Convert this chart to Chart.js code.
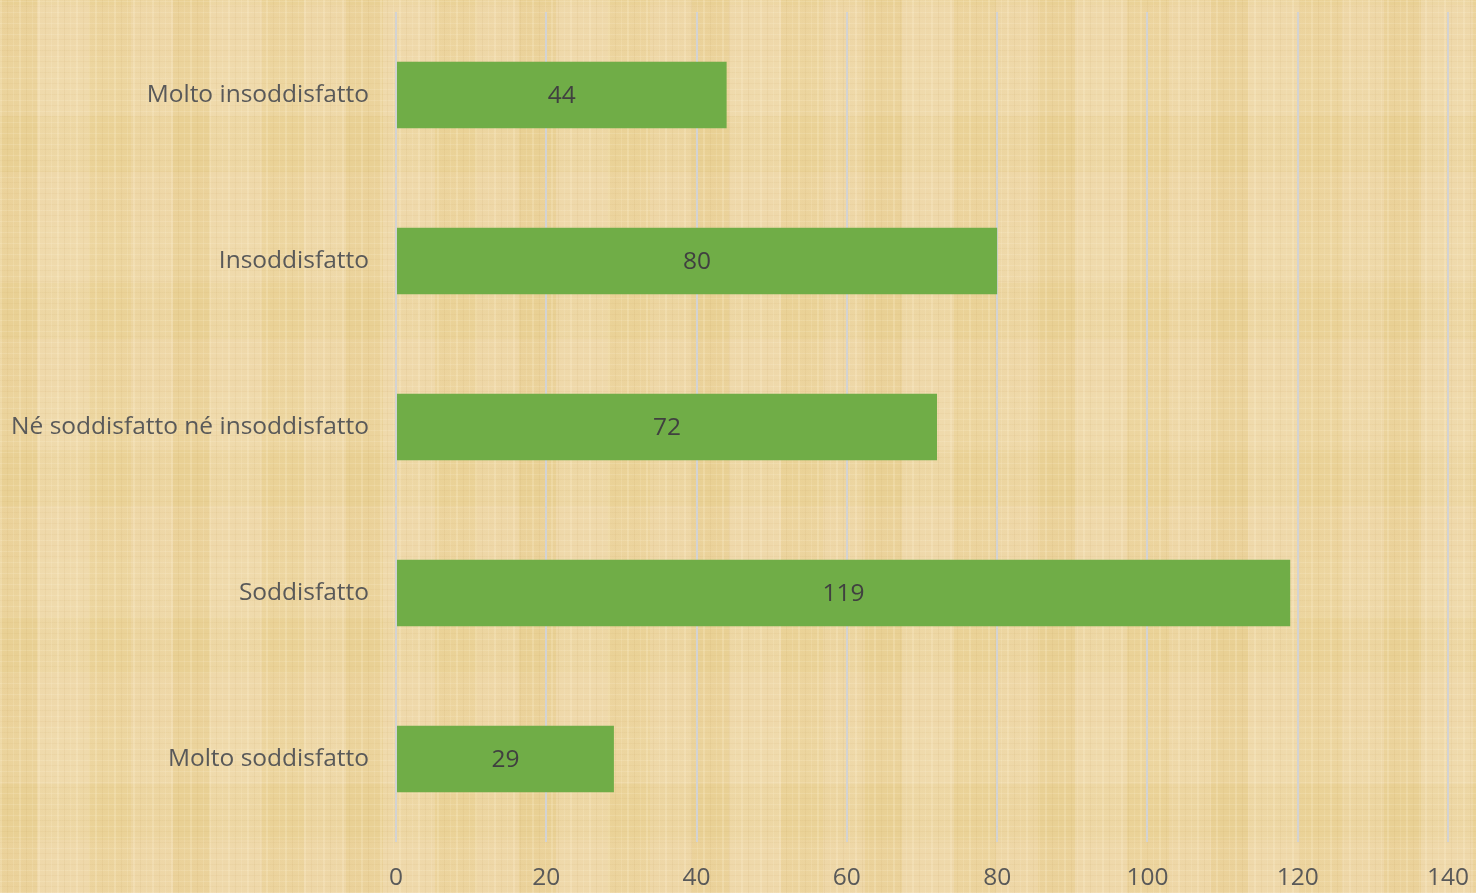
<!DOCTYPE html>
<html>
<head>
<meta charset="utf-8">
<script src="https://cdn.jsdelivr.net/npm/chart.js@4.4.1/dist/chart.umd.min.js"></script>
<style>
  html, body { margin: 0; padding: 0; }
  body {
    width: 1476px; height: 893px; overflow: hidden;
    background-color: #ecd5a0;
    background-image:
      repeating-linear-gradient(90deg, rgba(255,244,214,0.22) 0 2px, rgba(0,0,0,0) 2px 7px, rgba(180,140,70,0.08) 7px 8px, rgba(0,0,0,0) 8px 13px, rgba(255,244,214,0.15) 13px 14px, rgba(0,0,0,0) 14px 19px),
      repeating-linear-gradient(0deg, rgba(255,246,222,0.16) 0 1px, rgba(0,0,0,0) 1px 6px, rgba(190,150,80,0.07) 6px 7px, rgba(0,0,0,0) 7px 11px),
      repeating-linear-gradient(90deg, rgba(226,196,120,0.20) 0 37px, rgba(246,228,196,0.22) 37px 89px, rgba(232,204,130,0.16) 89px 131px, rgba(244,222,185,0.18) 131px 173px),
      repeating-linear-gradient(0deg, rgba(240,215,175,0.20) 0 53px, rgba(225,200,125,0.14) 53px 109px, rgba(244,226,190,0.16) 109px 167px);
  }
  #wrap { position: absolute; left: 0; top: 0; width: 1476px; height: 893px; }
</style>
</head>
<body>
<div id="wrap"><canvas id="barChart"></canvas></div>
<script>
// data
const categories = ['Molto insoddisfatto', 'Insoddisfatto', 'Né soddisfatto né insoddisfatto', 'Soddisfatto', 'Molto soddisfatto'];
const values = [44, 80, 72, 119, 29];
const xTicks = [0, 20, 40, 60, 80, 100, 120, 140];

// labels in the middle of each bar
const barLabels = {
    id: 'barLabels',
    afterDatasetsDraw(chart) {
        const ctx = chart.ctx;
        const meta = chart.getDatasetMeta(0);
        ctx.save();
        ctx.font = '24.5px "Open Sans"';
        ctx.fillStyle = '#404040';
        ctx.textAlign = 'center';
        ctx.textBaseline = 'middle';
        meta.data.forEach(function(bar, i) {
            const cx = (bar.x + bar.base) / 2;
            ctx.fillText(values[i], cx, bar.y + 1);
        });
        ctx.restore();
    }
};

const config = {
    type: 'bar',
    data: {
        labels: categories,
        datasets: [{
            data: values,
            backgroundColor: '#70ad47',
            borderWidth: 0,
            barPercentage: 0.8,
            categoryPercentage: 0.5
        }]
    },
    options: {
        indexAxis: 'y',
        responsive: false,
        animation: false,
        layout: { padding: { top: 12, right: 28, left: 0, bottom: 0 } },
        plugins: {
            legend: { display: false },
            tooltip: { enabled: false }
        },
        scales: {
            x: {
                min: 0,
                max: 140,
                afterBuildTicks(scale) {
                    scale.ticks = xTicks.map(v => ({ value: v }));
                },
                afterFit(scale) {
                    scale.height = 51;
                    scale.paddingLeft = 0;
                    scale.paddingRight = 0;
                },
                grid: { color: '#d3d3d3', lineWidth: 2, drawTicks: false },
                border: { display: false },
                ticks: {
                    color: '#595959',
                    font: { family: 'Open Sans', size: 24.5 },
                    padding: 21,
                    maxRotation: 0
                }
            },
            y: {
                afterFit(scale) {
                    scale.width = 396;
                    scale.paddingTop = 0;
                    scale.paddingBottom = 0;
                },
                grid: { display: false, drawTicks: false },
                border: { display: false },
                ticks: {
                    color: '#595959',
                    font: { family: 'Open Sans', size: 24.5 },
                    padding: 27
                }
            }
        }
    },
    plugins: [barLabels]
};

const canvas = document.getElementById('barChart');
canvas.width = 1476;
canvas.height = 893;
const barChart = new Chart(canvas, config);
</script>
</body>
</html>
